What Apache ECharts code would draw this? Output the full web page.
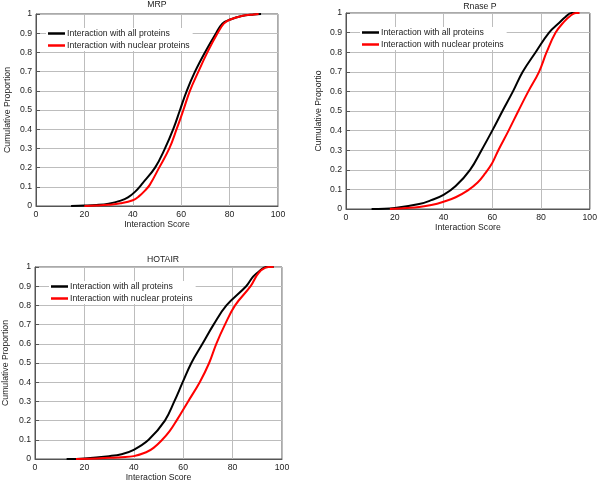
<!DOCTYPE html>
<html>
<head>
<meta charset="utf-8">
<script src="https://cdn.jsdelivr.net/npm/echarts@6/dist/echarts.min.js"></script>
<style>html,body{margin:0;padding:0;background:#fff}#c{width:600px;height:488px}</style>
</head>
<body>
<div id="c"></div>
<script>
const chartTitles = ['MRP', 'Rnase P', 'HOTAIR'];
const yAxisNames = ['Cumulative Proportion', 'Cumulative Proportio', 'Cumulative Proportion'];
const xAxisName = 'Interaction Score';
const seriesNames = ['Interaction with all proteins', 'Interaction with nuclear proteins'];
const yTickLabels = ['0','0.1','0.2','0.3','0.4','0.5','0.6','0.7','0.8','0.9','1'];
const xTickLabels = ['0','20','40','60','80','100'];

const mrpAllX = [14.5, 20, 25, 30, 35, 38, 41, 44, 49.2, 53.3, 56.7, 59.5, 62.3, 65.7, 69.8, 74.4, 77, 80, 85, 90, 93];
const mrpAllY = [0, 0.002, 0.005, 0.012, 0.028, 0.045, 0.075, 0.118, 0.2, 0.3, 0.4, 0.5, 0.6, 0.7, 0.8, 0.9, 0.95, 0.97, 0.99, 0.998, 1];
const mrpNucX = [20, 25, 30, 35, 40, 42.5, 45, 47, 50.9, 55.1, 58.1, 60.9, 63.6, 67.1, 70.8, 75, 77.6, 80, 85, 90, 92];
const mrpNucY = [0, 0.002, 0.006, 0.014, 0.03, 0.05, 0.08, 0.11, 0.2, 0.3, 0.4, 0.5, 0.6, 0.7, 0.8, 0.9, 0.95, 0.97, 0.99, 0.998, 1];

const rnaseAllX = [10.5, 20, 30, 35, 40, 45, 50.9, 55.6, 60, 64.2, 68.5, 72.5, 77.8, 83.3, 87.5, 90, 92.5, 95.5];
const rnaseAllY = [0, 0.005, 0.025, 0.045, 0.072, 0.117, 0.2, 0.3, 0.4, 0.5, 0.6, 0.7, 0.8, 0.9, 0.95, 0.98, 1, 1];
const rnaseNucX = [18, 25, 30, 35, 40, 45, 50, 54, 57, 60, 62.5, 66.7, 70.7, 74.8, 79.2, 82.3, 86, 89.4, 92, 94.3, 95.8];
const rnaseNucY = [0, 0.005, 0.01, 0.02, 0.037, 0.06, 0.095, 0.135, 0.18, 0.235, 0.3, 0.4, 0.5, 0.6, 0.7, 0.8, 0.9, 0.955, 0.985, 1, 1];

const hotAllX = [12.8, 20, 30, 35, 40, 46, 52.6, 56.4, 59.8, 63.3, 67.8, 72.3, 77.5, 85.5, 88.3, 91, 93.5, 96.6];
const hotAllY = [0, 0.003, 0.015, 0.025, 0.048, 0.1, 0.2, 0.3, 0.4, 0.5, 0.6, 0.7, 0.8, 0.9, 0.95, 0.98, 1, 1];
const hotNucX = [16.6, 25, 30, 35, 40, 45, 48, 51.5, 54.5, 57.3, 62, 66.7, 70.5, 73.4, 76.9, 81, 87.3, 89.5, 91.3, 94.5, 96.6];
const hotNucY = [0, 0.003, 0.006, 0.009, 0.015, 0.035, 0.058, 0.1, 0.145, 0.2, 0.3, 0.4, 0.5, 0.6, 0.7, 0.8, 0.9, 0.95, 0.98, 1, 1];

const panels = [
  {all: [mrpAllX, mrpAllY], nuc: [mrpNucX, mrpNucY]},
  {all: [rnaseAllX, rnaseAllY], nuc: [rnaseNucX, rnaseNucY]},
  {all: [hotAllX, hotAllY], nuc: [hotNucX, hotNucY]}
];

const FONT = 'Liberation Sans';
const FS = 8.7;
const grids = [
  {left: 36, top: 14, width: 242, height: 192},
  {left: 346, top: 13, width: 247, height: 196},
  {left: 35, top: 267, width: 247, height: 192}
];
const titlePos = [{x: 157, y: 0}, {x: 480, y: 2}, {x: 163, y: 255}];
const legendPos = [{x: 46, y: 28}, {x: 360, y: 27}, {x: 49, y: 281}];
const yNamePos = [7, 318, 5];

function pairs(xs, ys) { return xs.map((x, i) => [x, ys[i]]); }

const option = {
  backgroundColor: '#fff',
  animation: false,
  textStyle: {fontFamily: FONT},
  title: chartTitles.map((t, i) => ({
    text: t, left: titlePos[i].x, top: titlePos[i].y, textAlign: 'center', padding: 0,
    textStyle: {fontFamily: FONT, fontSize: FS, fontWeight: 'normal', color: '#222'}
  })),
  legend: grids.map((g, i) => ({
    data: seriesNames.map(n => ({name: n, icon: 'rect'})),
    orient: 'vertical', left: legendPos[i].x, top: legendPos[i].y,
    itemWidth: 17, itemHeight: 2.5, itemGap: 3, padding: [1, 3, 1, 2],
    backgroundColor: '#fff', selectedMode: false,
    textStyle: {fontFamily: FONT, fontSize: FS, color: '#222', padding: [0, 0, 0, -3]},
    seriesIndex: [2 * i, 2 * i + 1]
  })),
  grid: grids.map(g => Object.assign({show: true, borderColor: '#555', borderWidth: 1, backgroundColor: 'transparent'}, g)),
  xAxis: grids.map((g, i) => ({
    gridIndex: i, type: 'value', min: 0, max: 100, interval: 20,
    name: xAxisName, nameLocation: 'middle', nameGap: 12,
    nameTextStyle: {fontFamily: FONT, fontSize: FS, color: '#222'},
    axisLine: {lineStyle: {color: '#555'}},
    axisTick: {show: false},
    axisLabel: {fontFamily: FONT, fontSize: FS, color: '#222', margin: 4,
      formatter: v => xTickLabels[Math.round(v / 20)]},
    splitLine: {lineStyle: {color: '#bdbdbd', width: 1}}
  })),
  yAxis: grids.map((g, i) => ({
    gridIndex: i, type: 'value', min: 0, max: 1, interval: 0.1,
    name: yAxisNames[i], nameLocation: 'middle', nameGap: g.left - yNamePos[i] - 5,
    nameTextStyle: {fontFamily: FONT, fontSize: FS, color: '#222'},
    axisLine: {lineStyle: {color: '#555'}},
    axisTick: {show: true, inside: true, length: 4, lineStyle: {color: '#555'}},
    axisLabel: {fontFamily: FONT, fontSize: FS, color: '#222', margin: 4,
      formatter: v => yTickLabels[Math.round(v * 10)]},
    splitLine: {lineStyle: {color: '#bdbdbd', width: 1}}
  })),
  series: []
};

panels.forEach((p, i) => {
  [['all', '#000000'], ['nuc', '#ff0000']].forEach(([k, col], j) => {
    option.series.push({
      name: seriesNames[j], type: 'line', xAxisIndex: i, yAxisIndex: i,
      data: pairs(p[k][0], p[k][1]), showSymbol: false, smooth: 0.4,
      lineStyle: {color: col, width: 2}, itemStyle: {color: col}, z: 3 + j
    });
  });
});

const chart = echarts.init(document.getElementById('c'), null, {renderer: 'canvas'});
chart.setOption(option);
</script>
</body>
</html>
